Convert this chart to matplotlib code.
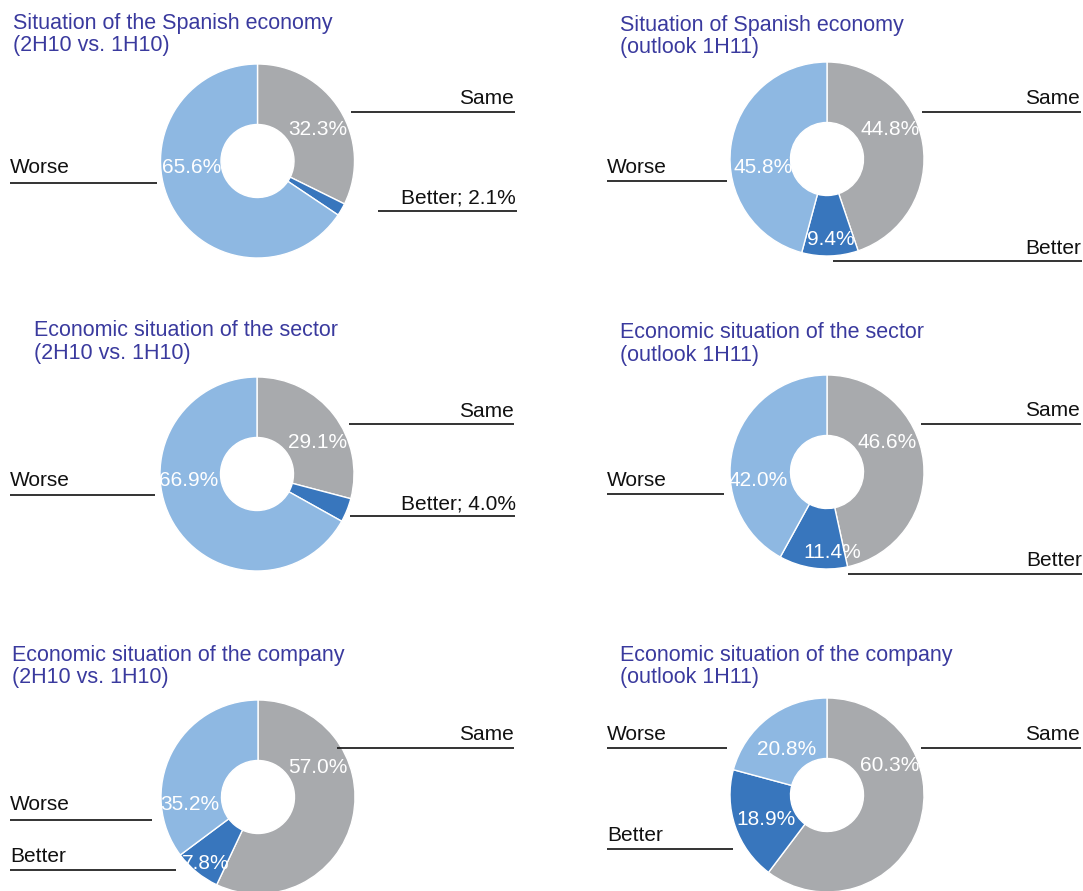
import matplotlib
matplotlib.use("Agg")
import matplotlib.pyplot as plt

# Survey results (% of answers)
categories = ["Same", "Better", "Worse"]
titles = [
    ("Situation of the Spanish economy", "(2H10 vs. 1H10)"),
    ("Situation of Spanish economy", "(outlook 1H11)"),
    ("Economic situation of the sector", "(2H10 vs. 1H10)"),
    ("Economic situation of the sector", "(outlook 1H11)"),
    ("Economic situation of the company", "(2H10 vs. 1H10)"),
    ("Economic situation of the company", "(outlook 1H11)"),
]
same = [32.3, 44.8, 29.1, 46.6, 57.0, 60.3]
better = [2.1, 9.4, 4.0, 11.4, 7.8, 18.9]
worse = [65.6, 45.8, 66.9, 42.0, 35.2, 20.8]
# panels whose "Better" share is written in the callout instead of the ring
better_in_callout = [True, False, True, False, False, False]

colors = {"Same": "#a8aaad", "Better": "#3876bd", "Worse": "#8eb8e2"}
title_color = "#3a3a9e"
font = "Liberation Sans"
TITLE_SIZE = 15.5
LABEL_SIZE = 15

W, H = 1083, 891
R, HOLE = 97, 36.5

# ---- layout (pixel units, origin at top-left) ----
centers = [(257.5, 161), (827, 159), (257, 474), (827, 472), (258, 797), (827, 795)]
title_pos = [(13, 29.5, 50.5), (620, 30.5, 52.5), (34, 336.5, 359),
             (620, 338.5, 360.5), (12, 660.5, 682.5), (620, 660.5, 682.5)]
# ring-label offsets in units of the outer radius (x right, y up), order Same, Better, Worse
pct_offsets = [
    [(0.62, 0.35), None, (-0.68, -0.05)],
    [(0.65, 0.32), (0.04, -0.81), (-0.66, -0.07)],
    [(0.62, 0.35), None, (-0.70, -0.05)],
    [(0.62, 0.32), (0.05, -0.81), (-0.71, -0.07)],
    [(0.62, 0.32), (-0.54, -0.67), (-0.70, -0.06)],
    [(0.65, 0.32), (-0.63, -0.23), (-0.42, 0.49)],
]
# callouts: category -> (align, text x, baseline y, line x0, line x1, line y)
callouts = [
    {"Same": ("right", 514, 104, 351, 515, 111.5),
     "Better": ("right", 516, 204, 378, 517, 211),
     "Worse": ("left", 10, 173, 10, 157, 182.5)},
    {"Same": ("right", 1080, 104, 922, 1081, 111.5),
     "Better": ("right", 1081.5, 254, 833, 1082, 261),
     "Worse": ("left", 607, 173, 607, 727, 181)},
    {"Same": ("right", 514, 416.7, 349, 514, 424),
     "Better": ("right", 516, 509, 350, 515, 516),
     "Worse": ("left", 10, 486, 10, 155, 495)},
    {"Same": ("right", 1080, 416.5, 921, 1081, 424),
     "Better": ("right", 1082, 566, 848, 1082, 574),
     "Worse": ("left", 607, 486, 607, 724, 494)},
    {"Same": ("right", 514, 740, 337, 514, 748),
     "Better": ("left", 10, 862, 10, 176, 870),
     "Worse": ("left", 10, 810, 10, 152, 820)},
    {"Same": ("right", 1080, 740, 921, 1081, 748),
     "Better": ("left", 607, 840.7, 607, 733, 849),
     "Worse": ("left", 607, 740, 607, 727, 748)},
]

fig = plt.figure(figsize=(W / 100, H / 100), dpi=100)
fig.patch.set_facecolor("white")
ax = fig.add_axes([0, 0, 1, 1])


def Y(y):
    return H - y


for i in range(6):
    cx, cy = centers[i]
    values = [same[i], better[i], worse[i]]
    ax.pie(values, colors=[colors[c] for c in categories], startangle=90,
           counterclock=False, radius=R, center=(cx, Y(cy)), frame=True,
           wedgeprops=dict(width=R - HOLE, edgecolor="white", linewidth=1.0))

    # title
    tx, b1, b2 = title_pos[i]
    ax.text(tx, Y(b1), titles[i][0], color=title_color, fontsize=TITLE_SIZE,
            family=font, ha="left", va="baseline")
    ax.text(tx, Y(b2), titles[i][1], color=title_color, fontsize=TITLE_SIZE,
            family=font, ha="left", va="baseline")

    # percentages on the ring
    for cat, v, off in zip(categories, values, pct_offsets[i]):
        if off is None:
            continue
        ax.text(cx + off[0] * R, Y(cy) + off[1] * R, f"{v:.1f}%", color="white",
                fontsize=LABEL_SIZE, family=font, ha="center", va="center_baseline")

    # callout labels with underline
    for cat, v in zip(categories, values):
        ha, x, base, x0, x1, ly = callouts[i][cat]
        label = cat
        if cat == "Better" and better_in_callout[i]:
            label = f"{cat}; {v:.1f}%"
        ax.text(x, Y(base), label, color="#111111", fontsize=LABEL_SIZE, family=font,
                ha=ha, va="baseline")
        ax.plot([x0, x1], [Y(ly), Y(ly)], color="#111111", lw=1.2,
                solid_capstyle="butt")

ax.set_xlim(0, W)
ax.set_ylim(0, H)
ax.set_aspect("auto")
ax.set_axis_off()

fig.savefig("out.png", dpi=100, facecolor="white")
